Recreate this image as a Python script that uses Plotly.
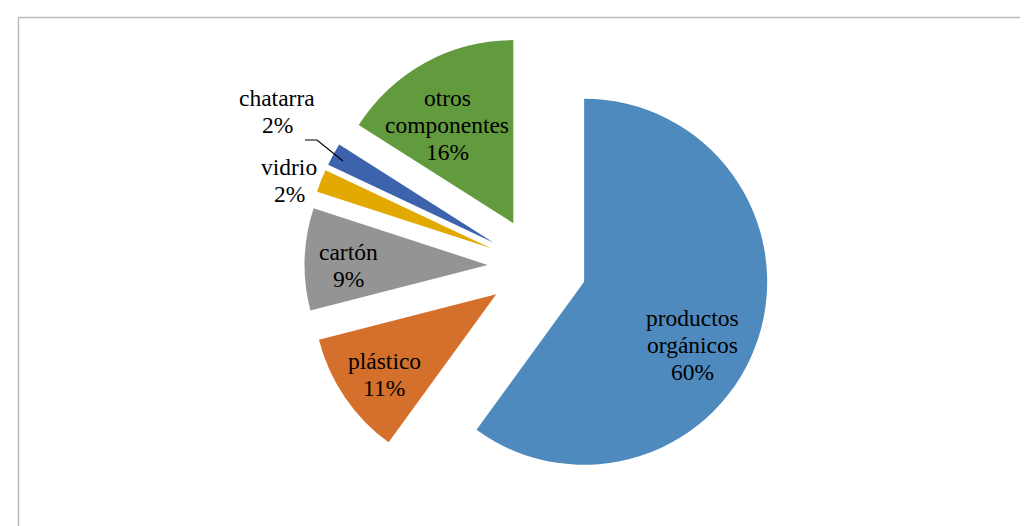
import plotly.graph_objects as go

categories = ["productos orgánicos", "plástico", "cartón", "vidrio", "chatarra", "otros componentes"]
values = [60, 11, 9, 2, 2, 16]
label_lines = [["productos", "orgánicos"], ["plástico"], ["cartón"], ["vidrio"], ["chatarra"], ["otros", "componentes"]]
colors = ["#4F8ABE", "#D4702B", "#949494", "#E2AA00", "#3D63AD", "#629B3E"]

W, H = 1028, 526
FS = 23.5
LINE = 27
# label anchor: (center x, center of first line) in pixels (layout only)
label_pos = [(684, 310), (376, 353), (340, 244), (281, 159), (269, 90), (439, 90)]

total = sum(values)
fig = go.Figure(go.Pie(
    labels=categories,
    values=values,
    sort=False,
    direction="clockwise",
    rotation=0,
    pull=[0.27] * len(values),
    marker=dict(colors=colors, line=dict(width=0)),
    textinfo="none",
    hoverinfo="label+percent",
    showlegend=False,
    domain=dict(x=[0.1932, 0.8362], y=[0.0666, 0.9506]),
))

annotations = []
for lines, v, (px, py) in zip(label_lines, values, label_pos):
    pct = round(100 * v / total)
    all_lines = lines + [f"{pct}%"]
    for i, t in enumerate(all_lines):
        cy = py + i * LINE
        annotations.append(dict(
            x=px / W, y=1 - cy / H, xref="paper", yref="paper",
            text=t, showarrow=False,
            font=dict(family="Liberation Serif", size=FS, color="#000000"),
            align="center", xanchor="center", yanchor="middle",
        ))

shapes = [
    # chart border
    dict(type="rect", xref="paper", yref="paper",
         x0=10.5 / W, x1=1.02, y0=-0.02, y1=1 - 9.5 / H,
         line=dict(color="#BBBBBB", width=1.5), fillcolor="rgba(0,0,0,0)", layer="below"),
    # leader line for chatarra
    dict(type="path", xref="paper", yref="paper",
         path=f"M {297/W},{1-132/H} L {309/W},{1-132/H} L {335/W},{1-153/H}",
         line=dict(color="#000000", width=1.2)),
]

fig.update_layout(
    width=W, height=H,
    margin=dict(l=0, r=0, t=0, b=0),
    paper_bgcolor="white", plot_bgcolor="white",
    annotations=annotations, shapes=shapes,
)

fig.write_html("out.html")
